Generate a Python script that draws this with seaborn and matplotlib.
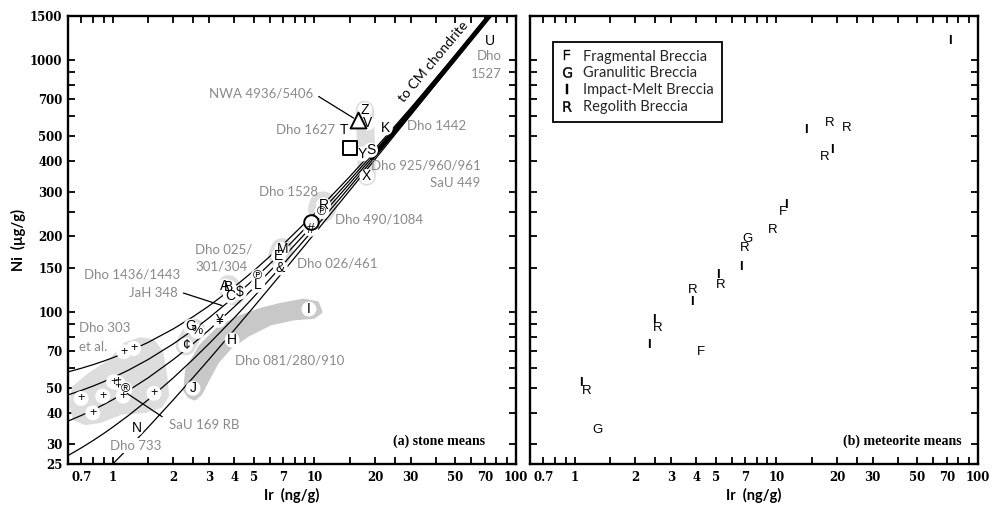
import numpy as np
import pandas as pd
import matplotlib
matplotlib.use("Agg")
import matplotlib.pyplot as plt
import seaborn as sns
from matplotlib.lines import Line2D
from matplotlib.patches import Polygon
from matplotlib.ticker import FixedLocator, NullFormatter

sns.set_theme(style="white")
plt.rcParams['font.family'] = ['Lato', 'DejaVu Sans']

nan = np.nan
# ---------------- mixing lines toward CM chondrite ----------------
mix_ir = [0.6, 0.7, 0.8, 0.9, 1.0, 1.2, 1.5, 2.0, 2.5, 3.0, 4.0, 5.0, 7.0, 10, 15, 20, 30, 50, 75]
mix_ni_1 = [58, 60, 62, 64, 66, 70, 76, 86, 96, 106, 126, 146, 186, 246, 346, 446, 646, 1046, 1546]
mix_ni_2 = [47, 49, 51, 53, 55, 59, 65, 75, 85, 95, 115, 135, 175, 235, 335, 435, 635, 1035, 1535]
mix_ni_3 = [37, 39, 41, 43, 45, 49, 55, 65, 75, 85, 105, 125, 165, 225, 325, 425, 625, 1025, 1525]
mix_ni_4 = [27, 29, 31, 33, 35, 39, 45, 55, 65, 75, 95, 115, 155, 215, 315, 415, 615, 1015, 1515]
mix_ni_5 = [nan, nan, nan, nan, 25, 29, 35, 45, 55, 65, 85, 105, 145, 205, 305, 405, 605, 1005, 1505]

cm_ir = [19, 25, 35, 50, 80]
cm_ni = [405, 525, 725, 1025, 1625]

# ---------------- stone means (panel a) ----------------
stone_lab = ['U', 'Z', 'V', 'T', 'K', 'Y', 'S', 'X', 'R', '℗', '#', 'M', 'E', '&', '℗', 'L',
             'A', 'B', 'C', '$', 'G', '%', '¥', '¢', 'H', 'J', 'I', 'N', '®', '‡',
             '+', '+', '+', '+', '+', '+', '+', '+']
stone_ir = [74.6, 17.8, 18.4, 14.1, 22.5, 17.3, 19.0, 18.2, 11.1, 10.9, 9.6, 6.92, 6.65, 6.78, 5.24, 5.24,
            3.58, 3.76, 3.83, 4.26, 2.43, 2.63, 3.36, 2.30, 3.91, 2.50, 9.4, 1.31, 1.15, 1.06,
            1.01, 0.697, 0.892, 0.796, 1.126, 1.134, 1.27, 1.60]
stone_ni = [1190, 637, 564, 530, 539, 425, 440, 346, 267, 251, 214, 178, 167, 150, 139, 128,
            127, 126, 116, 120, 88, 84, 93, 74, 77.6, 49.9, 103, 34.6, 49.5, 52.5,
            53.0, 45.5, 46.5, 39.9, 46.5, 69.7, 71.9, 47.7]

open_kind = ['^', 's', 'o']
open_ir = [16.4, 15.0, 9.63]
open_ni = [581, 449, 229]

# grouping fields
dark_blob_ir = [2.29, 2.34, 2.72, 3.29, 4.14, 5.40, 6.78, 8.85, 10.31, 10.71, 9.92, 7.90, 6.05, 4.64,
                3.83, 3.29, 2.94, 2.72, 2.55, 2.40]
dark_blob_ni = [49.1, 59.0, 73.0, 85.0, 94.7, 102.1, 106.9, 111.2, 108.6, 100.5, 96.0, 94.7, 90.4, 81.2,
                73.0, 63.6, 53.8, 47.6, 45.5, 46.5]
light_blob_ir = [0.63, 0.646, 0.775, 0.974, 1.156, 1.372, 1.573, 1.724, 1.804, 1.846, 1.724, 1.453,
                 1.092, 0.869, 0.732, 0.653]
light_blob_ni = [42.8, 50.0, 56.4, 63.5, 74.1, 77.6, 76.2, 69.5, 56.4, 46.9, 42.8, 40.9,
                 40.2, 37.3, 36.6, 38.0]
group_ir = [(17.8, 18.2), (3.75, 4.01), (2.30, 2.55), (6.92, 6.70), (10.9, 11.05)]
group_ni = [(637, 346), (127, 118), (74, 86), (178, 168), (258, 266)]

# sample-name labels
name_txt = ['NWA 4936/5406', 'Dho 1627', 'Dho 1442', 'Dho 925/960/961', 'SaU 449', 'Dho 1528',
            'Dho 490/1084', 'Dho', '1527', 'Dho 025/', '301/304', 'Dho 1436/1443', 'JaH 348',
            'Dho 026/461', 'Dho 081/280/910', 'Dho 303', 'et al.', 'SaU 169 RB', 'Dho 733']
name_ir = [9.9, 12.7, 28.8, 66.5, 66.5, 7.43, 12.7, 84.6, 84.6, 2.57, 2.57, 1.25, 2.10,
           8.21, 7.52, 0.681, 0.681, 1.90, 1.30]
name_ni = [740, 530, 547, 382, 326, 299, 234, 1037, 885, 178, 152, 141.6, 119,
           155.6, 64.6, 86.4, 73.0, 35.6, 29.5]
name_ha = ['right', 'right', 'left', 'right', 'right', 'center', 'left', 'right', 'right', 'left', 'left',
           'center', 'right', 'left', 'center', 'left', 'left', 'left', 'center']
leader_ir = [(10.5, 15.66), (2.24, 3.48), (1.18, 1.76)]
leader_ni = [(719, 590), (119.3, 106.4), (47.6, 38.5)]

cm_label = 'to CM chondrite'
cm_label_ir, cm_label_ni = 39.0, 990

# ---------------- meteorite means (panel b) ----------------
met_lab = ['I', 'I', 'R', 'R', 'I', 'R', 'I', 'F', 'R', 'G', 'R', 'I', 'I', 'R', 'R', 'I', 'I', 'R',
           'I', 'F', 'I', 'R', 'G']
met_ir = [72.7, 14.0, 18.3, 22.4, 18.9, 17.3, 11.2, 10.8, 9.55, 7.18, 6.94, 6.69, 5.16, 5.28, 3.83,
          3.83, 2.46, 2.58, 2.33, 4.24, 1.07, 1.14, 1.30]
met_ni = [1190, 528, 562, 539, 440, 412, 266, 250, 213, 195, 180, 151, 140, 128, 123, 110, 93, 87,
          74, 69.4, 52.4, 48.7, 34.2]

legend_codes = ['F', 'G', 'I', 'R']
legend_names = ['Fragmental Breccia', 'Granulitic Breccia', 'Impact-Melt Breccia', 'Regolith Breccia']

# ---------------- axes ticks ----------------
x_major = [0.7, 1, 2, 3, 4, 5, 7, 10, 20, 30, 50, 70, 100]
x_major_lab = ['0.7', '1', '2', '3', '4', '5', '7', '10', '20', '30', '50', '70', '100']
x_minor = [0.6, 0.8, 0.9, 1.5, 2.5, 6, 8, 9, 15, 25, 40, 60, 80, 90]
y_major = [25, 30, 40, 50, 70, 100, 150, 200, 300, 400, 500, 700, 1000, 1500]
y_major_lab = [str(v) for v in y_major]
y_minor = [60, 80, 90, 250, 600, 800, 900]

# ---------------- figure ----------------
W, H = 992, 507
fig = plt.figure(figsize=(W / 100, H / 100), dpi=100)
axL = fig.add_axes([68 / W, 43 / H, 448 / W, 448 / H])
axR = fig.add_axes([530 / W, 43 / H, 448 / W, 448 / H])

LIGHT = '#dddddd'
DARK = '#c8c8c8'
GRAYTXT = '#8a8a8a'
LETTER_FONT = ['Liberation Sans', 'DejaVu Sans']
TICK_FONT = dict(fontfamily='DejaVu Serif', fontweight='bold', fontsize=8.5)


def style_axis(ax, ylabels):
    ax.set_xscale('log')
    ax.set_yscale('log')
    ax.set_xlim(0.6, 100)
    ax.set_ylim(25, 1500)
    ax.xaxis.set_major_locator(FixedLocator(x_major))
    ax.xaxis.set_minor_locator(FixedLocator(x_minor))
    ax.yaxis.set_major_locator(FixedLocator(y_major))
    ax.yaxis.set_minor_locator(FixedLocator(y_minor))
    ax.xaxis.set_minor_formatter(NullFormatter())
    ax.yaxis.set_minor_formatter(NullFormatter())
    ax.set_xticklabels(x_major_lab, **TICK_FONT)
    if ylabels:
        ax.set_yticklabels(y_major_lab, **TICK_FONT)
    else:
        ax.set_yticklabels([])
    ax.tick_params(which='both', direction='in', length=5, width=1.3, top=True, right=True,
                   bottom=True, left=True, color='black', labelcolor='black')
    ax.tick_params(axis='x', which='both', pad=5)
    ax.tick_params(axis='y', which='both', pad=4)
    for s in ax.spines.values():
        s.set_linewidth(1.7)
        s.set_color('black')
    ax.set_facecolor('white')
    ax.set_xlabel('Ir  (ng/g)', fontsize=10.5, fontweight='bold', labelpad=3, color='black')


style_axis(axL, True)
style_axis(axR, False)
axL.set_ylabel('Ni  (µg/g)', fontsize=10.5, fontweight='bold', labelpad=3, color='black')

# ---- panel a: grouping fields ----
axL.add_patch(Polygon(np.column_stack([dark_blob_ir, dark_blob_ni]), closed=True, facecolor=DARK,
                      edgecolor=DARK, lw=3, joinstyle='round', zorder=1))
axL.add_patch(Polygon(np.column_stack([light_blob_ir, light_blob_ni]), closed=True, facecolor=LIGHT,
                      edgecolor=LIGHT, lw=4, joinstyle='round', zorder=1))
group_w = [13, 16, 14.5, 16, 20]
for (x0, x1), (y0, y1), w in zip(group_ir, group_ni, group_w):
    axL.plot([x0, x1], [y0, y1], color=LIGHT, lw=w, solid_capstyle='round', zorder=1)

# ---- mixing lines ----
mix_df = pd.concat([
    pd.DataFrame({'ir': mix_ir, 'ni': vals, 'curve': k})
    for k, vals in enumerate([mix_ni_1, mix_ni_2, mix_ni_3, mix_ni_4, mix_ni_5])
]).dropna()
sns.lineplot(data=mix_df, x='ir', y='ni', units='curve', estimator=None, sort=False,
             color='black', lw=0.9, ax=axL, legend=False, zorder=2)
sns.lineplot(x=cm_ir, y=cm_ni, color='black', lw=3.5, ax=axL, legend=False, zorder=2,
             solid_capstyle='butt')
axL.text(cm_label_ir, cm_label_ni, cm_label, rotation=50, rotation_mode='anchor',
         ha='center', va='center', fontsize=10, color='black', zorder=5)

# ---- halos and symbols ----
sns.scatterplot(x=stone_ir, y=stone_ni, s=115, color='white', edgecolor='none', ax=axL,
                legend=False, zorder=3)
for m, x, y in zip(open_kind, open_ir, open_ni):
    sns.scatterplot(x=[x], y=[y], marker=m, s=130 if m == '^' else 110, facecolor='white',
                    edgecolor='black', linewidth=1.4, ax=axL, legend=False, zorder=4)
for lab, x, y in zip(stone_lab, stone_ir, stone_ni):
    fs = 9 if lab in ('+', '‡', '%', '℗', '®') else 10
    axL.text(x, y, lab, ha='center', va='center', fontsize=fs, family=LETTER_FONT,
             color='black', zorder=5)

# ---- sample names and leaders ----
for (x0, x1), (y0, y1) in zip(leader_ir, leader_ni):
    axL.plot([x0, x1], [y0, y1], color='black', lw=0.9, zorder=3.5)
for t, x, y, ha in zip(name_txt, name_ir, name_ni, name_ha):
    kw = {}
    if t == 'Dho 733':
        kw['bbox'] = dict(facecolor='white', edgecolor='none', pad=1.0)
    axL.text(x, y, t, ha=ha, va='center', fontsize=9.5, color=GRAYTXT, zorder=5, **kw)

axL.text(0.931, 0.051, '(a) stone means', transform=axL.transAxes, ha='right', va='center',
         fontsize=10, fontweight='bold', family='Liberation Serif', color='black')

# ---- panel b ----
for lab, x, y in zip(met_lab, met_ir, met_ni):
    axR.text(x, y, lab, ha='center', va='center', fontsize=9.5, family=LETTER_FONT, color='black',
             fontweight='bold' if lab == 'I' else 'normal')

handles = [Line2D([], [], ls='none', marker='$\\mathsf{%s}$' % c, color='black', markersize=7.5,
                  markeredgewidth=0.3) for c in legend_codes]
leg = axR.legend(handles, legend_names, loc='upper left', bbox_to_anchor=(0.051, 0.943),
                 borderaxespad=0, frameon=True, fancybox=False, framealpha=1, edgecolor='black',
                 prop={'family': 'Lato', 'size': 10.5}, handlelength=0.9, handletextpad=0.6,
                 labelspacing=0.2, borderpad=0.55)
leg.get_frame().set_linewidth(1.3)

axR.text(0.964, 0.051, '(b) meteorite means', transform=axR.transAxes, ha='right', va='center',
         fontsize=10, fontweight='bold', family='Liberation Serif', color='black')

fig.savefig('out.png', dpi=100, facecolor='white')
